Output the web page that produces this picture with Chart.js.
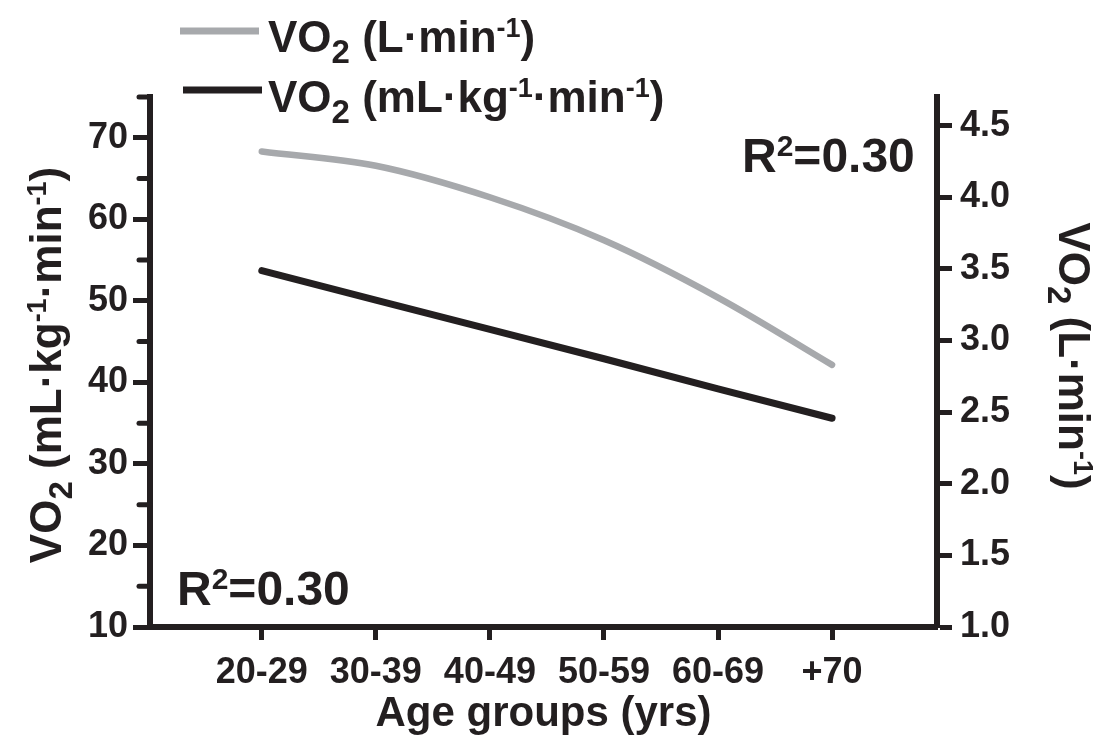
<!DOCTYPE html>
<html>
<head>
<meta charset="utf-8">
<script src="https://cdn.jsdelivr.net/npm/chart.js@4.4.1/dist/chart.umd.min.js"></script>
<style>
  body { margin: 0; background: #fff; }
  canvas { display: block; }
</style>
</head>
<body>
<canvas id="myChart" width="1114" height="756"></canvas>
<script>
var ageGroups = ['20-29', '30-39', '40-49', '50-59', '60-69', '+70'];
// VO2 in L·min-1 (right axis)
var vo2Abs = [4.32, 4.22, 4.00, 3.70, 3.30, 2.83];
// VO2 in mL·kg-1·min-1 (left axis)
var vo2Rel = [53.7, 50.1, 46.5, 42.9, 39.2, 35.6];
var leftMinorTicks = [15, 25, 35, 45, 55, 65, 75];

var ink = '#231f20';
var grey = '#a7a9ac';
var FONT = '"Liberation Sans", Arial, sans-serif';

function partFont(mode, size) {
    var s = size;
    if (mode === 1) s = size * 0.74;
    if (mode === 2) s = size * 0.62;
    return 'bold ' + Math.round(s) + 'px ' + FONT;
}

function richWidth(ctx, parts, size) {
    var w = 0;
    parts.forEach(function (p) {
        ctx.font = partFont(p[1], size);
        w += ctx.measureText(p[0]).width;
    });
    return w;
}

// draws text with sub (1) / superscript (2) parts, baseline at y
function drawRich(ctx, parts, x, y, size) {
    ctx.textAlign = 'left';
    ctx.textBaseline = 'alphabetic';
    ctx.fillStyle = ink;
    parts.forEach(function (p) {
        var dy = 0;
        if (p[1] === 1) dy = size * 0.26;
        if (p[1] === 2) dy = -size * 0.34;
        ctx.font = partFont(p[1], size);
        ctx.fillText(p[0], x, y + dy);
        x += ctx.measureText(p[0]).width;
    });
}

var absLabel = [['VO', 0], ['2', 1], [' (L\u00b7min', 0], ['-1', 2], [')', 0]];
var relLabel = [['VO', 0], ['2', 1], [' (mL\u00b7kg', 0], ['-1', 2], ['\u00b7min', 0], ['-1', 2], [')', 0]];
var r2Label = [['R', 0], ['2', 2], ['=0.30', 0]];

var extras = {
    id: 'extras',
    afterDraw: function (chart) {
        var ctx = chart.ctx;
        var y = chart.scales.y;
        ctx.save();

        // minor ticks on the left axis
        ctx.strokeStyle = ink;
        ctx.lineWidth = 5;
        ctx.lineCap = 'round';
        leftMinorTicks.forEach(function (v) {
            var py = y.getPixelForValue(v);
            ctx.beginPath();
            ctx.moveTo(chart.chartArea.left - 11, py);
            ctx.lineTo(chart.chartArea.left, py);
            ctx.stroke();
        });

        // legend
        ctx.lineCap = 'butt';
        ctx.lineWidth = 7;
        ctx.strokeStyle = grey;
        ctx.beginPath(); ctx.moveTo(180, 31); ctx.lineTo(259, 31); ctx.stroke();
        ctx.strokeStyle = ink;
        ctx.beginPath(); ctx.moveTo(183, 90); ctx.lineTo(262, 90); ctx.stroke();
        drawRich(ctx, absLabel, 268, 52, 44);
        drawRich(ctx, relLabel, 268, 112, 44);

        // R² notes
        drawRich(ctx, r2Label, 742, 172, 48);
        drawRich(ctx, r2Label, 177, 605, 48);

        // left axis title
        var w = richWidth(ctx, relLabel, 44);
        ctx.save();
        ctx.translate(61, 365);
        ctx.rotate(-Math.PI / 2);
        drawRich(ctx, relLabel, -w / 2, 0, 44);
        ctx.restore();

        // right axis title
        w = richWidth(ctx, absLabel, 44);
        ctx.save();
        ctx.translate(1059, 356);
        ctx.rotate(Math.PI / 2);
        drawRich(ctx, absLabel, -w / 2, 0, 44);
        ctx.restore();

        ctx.restore();
    }
};

var ctx = document.getElementById('myChart').getContext('2d');
var myChart = new Chart(ctx, {
    type: 'line',
    data: {
        datasets: [{
            label: 'VO2 (L·min-1)',
            data: ageGroups.map(function (g, i) { return { x: i, y: vo2Abs[i] }; }),
            yAxisID: 'y1',
            borderColor: grey,
            borderWidth: 6.5,
            borderCapStyle: 'round',
            tension: 0.35,
            pointRadius: 0,
            fill: false
        }, {
            label: 'VO2 (mL·kg-1·min-1)',
            data: ageGroups.map(function (g, i) { return { x: i, y: vo2Rel[i] }; }),
            yAxisID: 'y',
            borderColor: ink,
            borderWidth: 7,
            borderCapStyle: 'round',
            tension: 0,
            pointRadius: 0,
            fill: false
        }]
    },
    options: {
        responsive: false,
        animation: false,
        devicePixelRatio: 1,
        layout: { padding: { top: 97, left: 0, right: 0, bottom: 0 } },
        scales: {
            x: {
                type: 'linear',
                min: -0.98,
                max: 5.92,
                afterBuildTicks: function (scale) {
                    scale.ticks = ageGroups.map(function (g, i) { return { value: i }; });
                },
                afterFit: function (scale) { scale.height = 129; },
                ticks: {
                    callback: function (v) { return ageGroups[v]; },
                    font: { family: FONT, weight: 'bold', size: 36 },
                    color: ink,
                    padding: 11,
                    maxRotation: 0,
                    autoSkip: false
                },
                grid: { drawOnChartArea: false, tickLength: 13, tickWidth: 5, tickColor: ink },
                border: { width: 6, color: ink },
                title: {
                    display: true,
                    text: 'Age groups (yrs)',
                    font: { family: FONT, weight: 'bold', size: 42 },
                    color: ink,
                    padding: { top: 0, bottom: 16 }
                }
            },
            y: {
                position: 'left',
                min: 10,
                max: 75,
                afterFit: function (scale) { scale.width = 150; },
                ticks: {
                    stepSize: 10,
                    includeBounds: false,
                    font: { family: FONT, weight: 'bold', size: 36 },
                    color: ink,
                    padding: 5
                },
                grid: { drawOnChartArea: false, tickLength: 17, tickWidth: 5, tickColor: ink },
                border: { width: 6, color: ink }
            },
            y1: {
                position: 'right',
                min: 1,
                max: 4.7,
                afterFit: function (scale) { scale.width = 177; },
                ticks: {
                    stepSize: 0.5,
                    includeBounds: false,
                    callback: function (v) { return v.toFixed(1); },
                    font: { family: FONT, weight: 'bold', size: 36 },
                    color: ink,
                    padding: 8
                },
                grid: { drawOnChartArea: false, tickLength: 15, tickWidth: 5, tickColor: ink },
                border: { width: 6, color: ink }
            }
        },
        plugins: {
            legend: { display: false },
            tooltip: { enabled: false }
        }
    },
    plugins: [extras]
});
</script>
</body>
</html>
